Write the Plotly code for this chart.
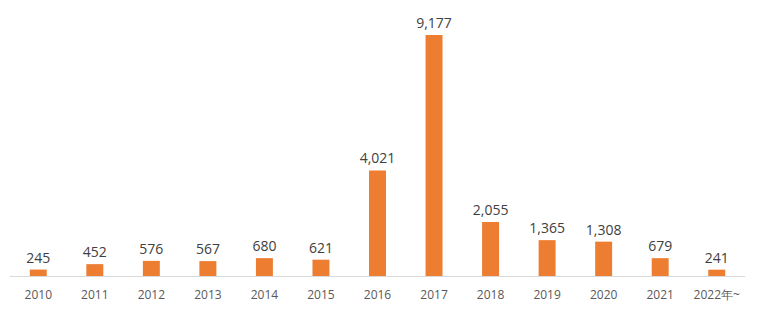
import plotly.graph_objects as go

categories = ["2010", "2011", "2012", "2013", "2014", "2015", "2016", "2017",
              "2018", "2019", "2020", "2021", "2022年~"]
values = [245, 452, 576, 567, 680, 621, 4021, 9177, 2055, 1365, 1308, 679, 241]

fig = go.Figure(go.Bar(
    x=categories, y=values,
    marker=dict(color="#ED7D31", line=dict(width=0)),
    width=0.3,
    texttemplate="%{y:,}", textposition="outside", cliponaxis=False,
    textfont=dict(family="Open Sans, sans-serif", size=14, color="#404040"),
))

fig.update_layout(
    width=768, height=316,
    margin=dict(l=10, r=23, t=0, b=40),
    paper_bgcolor="white", plot_bgcolor="white",
    showlegend=False,
    uniformtext=dict(minsize=14, mode="show"),
    xaxis=dict(showline=True, linecolor="#D9D9D9", linewidth=1,
               showgrid=False, ticks="", ticklabelstandoff=8,
               tickfont=dict(family="Open Sans, sans-serif", size=12, color="#595959"),
               range=[-0.5, 12.5]),
    yaxis=dict(visible=False, range=[0, 10510]),
)

fig.write_html("out.html")
